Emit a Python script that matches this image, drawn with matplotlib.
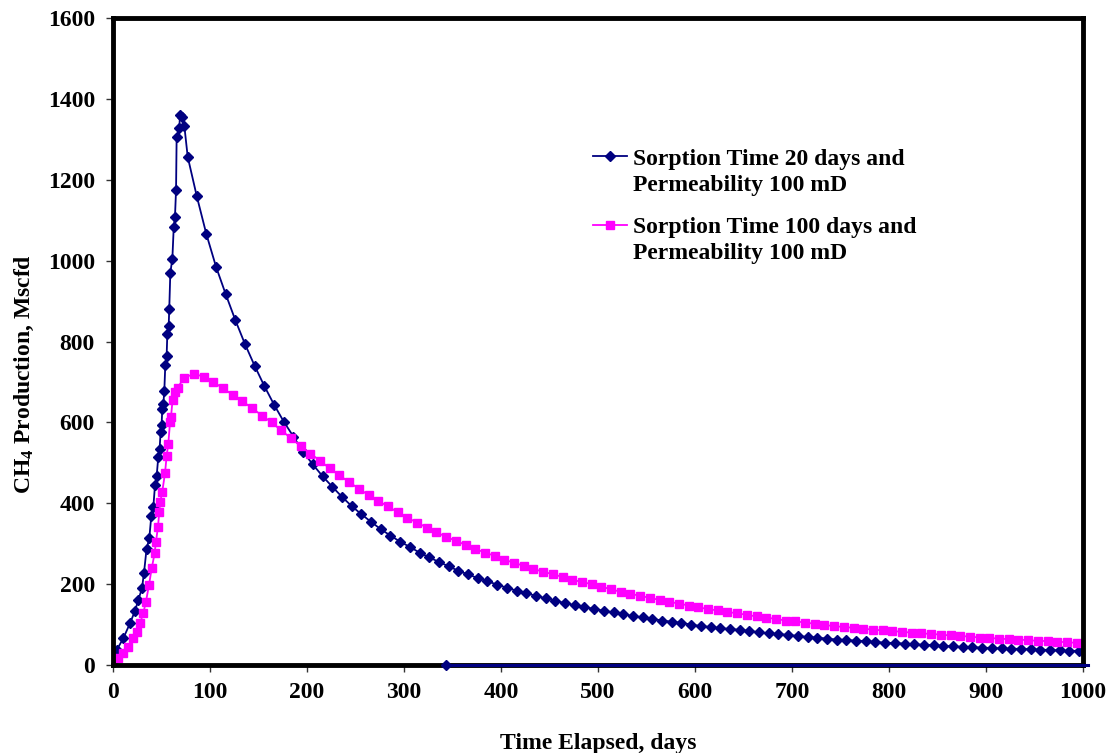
import matplotlib
matplotlib.use("Agg")
import matplotlib.pyplot as plt
from matplotlib.legend_handler import HandlerLine2D
import matplotlib.transforms as mtransforms

plt.rcParams['font.family'] = ['Liberation Serif', 'DejaVu Serif']
plt.rcParams['font.weight'] = 'bold'
plt.rcParams['mathtext.fontset'] = 'custom'
plt.rcParams['mathtext.rm'] = 'Liberation Serif:bold'
plt.rcParams['mathtext.it'] = 'Liberation Serif:bold'
plt.rcParams['mathtext.bf'] = 'Liberation Serif:bold'

# ---------------- data ----------------
label_20 = "Sorption Time 20 days and\nPermeability 100 mD"
label_100 = "Sorption Time 100 days and\nPermeability 100 mD"

days_20 = [0.3, 3.8, 10.6, 17.5, 22.7, 26.1, 29.9, 31.9, 34.6, 37.4, 39.5, 41.6,
           43.3, 45.0, 46.7, 48.0, 49.1, 50.1, 50.8, 51.9, 52.9, 53.9, 55.3, 56.0,
           57.4, 58.0, 59.1, 61.2, 62.6, 63.9, 65.0, 65.6, 68.4, 69.0, 70.8, 73.5,
           77.0, 86.3, 96.2, 106.2, 116.2, 126.1, 136.0, 146.0, 156.0, 166.0, 176.0,
           186, 196, 206, 216, 226, 236, 246, 256, 266, 276,
           286, 296, 306, 316, 326, 336, 346, 356, 366, 376,
           386, 396, 406, 416, 426, 436, 446, 456, 466, 476,
           486, 496, 506, 516, 526, 536, 546, 556, 566, 576,
           586, 596, 606, 616, 626, 636, 646, 656, 666, 676,
           686, 696, 706, 716, 726, 736, 746, 756, 766, 776,
           786, 796, 806, 816, 826, 836, 846, 856, 866, 876,
           886, 896, 906, 916, 926, 936, 946, 956, 966, 976,
           986, 996]
prod_20 = [12, 37, 66, 103, 134, 161, 190, 227, 287, 313, 369, 391,
           445, 467, 515, 533, 576, 594, 632, 645, 678, 741, 765, 818,
           838, 881, 970, 1005, 1082, 1109, 1175, 1306, 1327, 1360, 1356, 1334,
           1257, 1160, 1066, 985, 917, 853, 794, 740, 690, 644, 602,
           565, 527, 496, 467, 441, 416, 393, 373, 354, 336,
           320, 305, 292, 278, 266, 255, 244, 233, 224, 215,
           207, 199, 191, 184, 178, 171, 165, 159, 153, 148,
           143, 139, 134, 130, 126, 121, 118, 114, 110, 107,
           104, 100, 96, 94, 91, 89, 87, 84, 81, 78,
           77, 74, 72, 69, 68, 65, 63, 62, 60, 59,
           57, 55, 54, 53, 51, 50, 49, 47, 46, 45,
           44, 43, 42, 41, 40, 40, 39, 38, 37, 36,
           35, 35]

# stray zero-valued segment of the 20-day series along the time axis
stray_days_20 = [343, 1005]
stray_prod_20 = [0, 0]

days_100 = [0.3, 5.5, 10.6, 15.8, 20.9, 24.4, 27.8, 31.2, 34.0, 37.1, 39.9, 42.9,
            44.3, 46.4, 47.7, 48.8, 50.8, 53.6, 55.3, 57.0, 58.8, 59.8, 61.4, 63.6,
            66.7, 73.2, 83.5,
            93.5, 103.5, 113.5, 123.5, 133.5, 143.5, 153.5, 163.5, 173.5, 183.5,
            193.5, 203.5, 213.5, 223.5, 233.5, 243.5, 253.5, 263.5, 273.5, 283.5,
            293.5, 303.5, 313.5, 323.5, 333.5, 343.5, 353.5, 363.5, 373.5, 383.5,
            393.5, 403.5, 413.5, 423.5, 433.5, 443.5, 453.5, 463.5, 473.5, 483.5,
            493.5, 503.5, 513.5, 523.5, 533.5, 543.5, 553.5, 563.5, 573.5, 583.5,
            593.5, 603.5, 613.5, 623.5, 633.5, 643.5, 653.5, 663.5, 673.5, 683.5,
            693.5, 703.5, 713.5, 723.5, 733.5, 743.5, 753.5, 763.5, 773.5, 783.5,
            793.5, 803.5, 813.5, 823.5, 833.5, 843.5, 853.5, 863.5, 873.5, 883.5,
            893.5, 903.5, 913.5, 923.5, 933.5, 943.5, 953.5, 963.5, 973.5, 983.5,
            993.5]
prod_100 = [4, 17, 29, 45, 66, 82, 103, 128, 157, 198, 239, 276,
            305, 342, 379, 404, 429, 474, 517, 547, 600, 614, 655, 676,
            686, 710, 720,
            713, 700, 684, 668, 652, 635, 617, 600, 580, 561,
            541, 523, 505, 486, 469, 452, 436, 420, 406, 392,
            378, 364, 352, 340, 328, 317, 307, 297, 287, 278,
            270, 260, 253, 245, 237, 231, 224, 218, 211, 205,
            200, 194, 187, 181, 176, 171, 166, 161, 156, 152,
            147, 143, 138, 135, 131, 128, 124, 120, 117, 114,
            110, 108, 105, 102, 99, 96, 94, 92, 90, 87,
            86, 84, 82, 80, 78, 77, 75, 73, 72, 70,
            68, 67, 65, 64, 63, 61, 60, 59, 58, 56,
            55]

x_ticks = [0, 100, 200, 300, 400, 500, 600, 700, 800, 900, 1000]
y_ticks = [0, 200, 400, 600, 800, 1000, 1200, 1400, 1600]

NAVY = '#000080'
MAGENTA = '#FF00FF'
FS = 17

# ---------------- figure ----------------
fig = plt.figure(figsize=(11.10, 7.53), dpi=100)
ax = fig.add_axes([113/1110, 1 - 665/753, (1083-113)/1110, (665-18)/753])

l20, = ax.plot(days_20, prod_20, color=NAVY, lw=1.3, marker='D', ms=5.2,
               mfc=NAVY, mec=NAVY, label=label_20, zorder=3)
ax.plot(stray_days_20, stray_prod_20, color=NAVY, lw=2.2, marker='D', ms=5.2,
        markevery=[0], mfc=NAVY, mec=NAVY, clip_on=False, zorder=6)
l100, = ax.plot(days_100, prod_100, color=MAGENTA, lw=1.3, marker='s', ms=6.2,
                mfc=MAGENTA, mec=MAGENTA, label=label_100, zorder=4)

ax.set_xlim(0, 1000)
ax.set_ylim(0, 1600)
ax.set_xticks(x_ticks)
ax.set_yticks(y_ticks)
ax.set_xticklabels([str(v) for v in x_ticks])
ax.set_yticklabels([str(v) for v in y_ticks])
ax.tick_params(axis='both', direction='out', length=5, width=1, color='#333333',
               labelsize=FS)
ax.tick_params(axis='x', pad=7)
ax.tick_params(axis='y', pad=8)
for lab in ax.get_xticklabels() + ax.get_yticklabels():
    lab.set_fontweight('bold')

for sp in ax.spines.values():
    sp.set_linewidth(3.5)
    sp.set_color('black')
    sp.set_zorder(5)

ax.set_xlabel('Time Elapsed, days', fontsize=FS, fontweight='bold', labelpad=22)
ax.set_ylabel('CH$_4$ Production, Mscfd', fontsize=FS, fontweight='bold')
ax.yaxis.set_label_coords((36 - 113) / 970, (665 - 374) / 647)


class TopHandler(HandlerLine2D):
    def create_artists(self, legend, orig_handle, xdescent, ydescent, width,
                       height, fontsize, trans):
        arts = super().create_artists(legend, orig_handle, xdescent, ydescent,
                                      width, height, fontsize, trans)
        shift = mtransforms.Affine2D().translate(0, 0.67 * fontsize)
        for a in arts:
            a.set_transform(shift + trans)
        return arts


leg = ax.legend(handles=[l20, l100], loc='upper left',
                bbox_to_anchor=((593-113)/970, (665-149)/647),
                frameon=False, fontsize=FS, borderpad=0, borderaxespad=0,
                handlelength=1.45, handletextpad=0.25, labelspacing=0.92,
                handler_map={l20: TopHandler(numpoints=1), l100: TopHandler(numpoints=1)},
                prop={'weight': 'bold', 'size': FS})
for t in leg.get_texts():
    t.set_linespacing(1.29)
hs = leg.legend_handles
hs[0].set_markersize(5)
hs[1].set_markersize(6)

fig.savefig('out.png', dpi=100)
